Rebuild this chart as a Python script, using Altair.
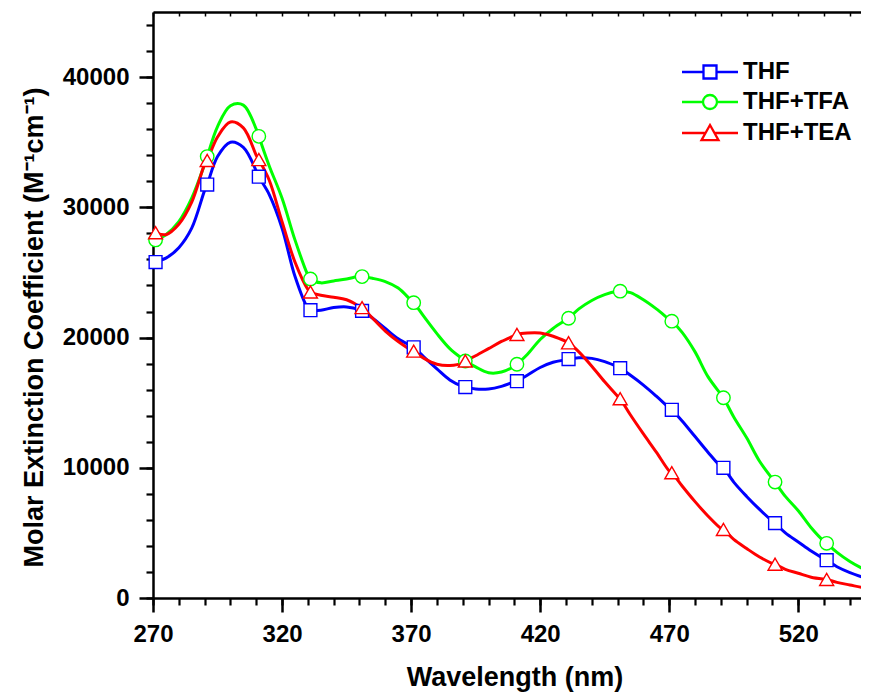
import altair as alt
import pandas as pd

# ---------------- data ----------------
series_names = ["THF", "THF+TFA", "THF+TEA"]
series_colors = ["#0000FF", "#00FF00", "#FF0000"]
series_shapes = ["square", "circle", "triangle-up"]
series_sizes = [165, 196, 290]

# smooth spectra, sampled every 5 nm
curve_nm = list(range(270, 551, 5))
thf_curve = [25650, 26100, 26900, 28400, 31300, 33900, 35000, 34600, 32800, 31000,
             28400, 24700, 22250, 22100, 22300, 22350, 22150, 21500, 20700, 19900,
             19350, 18500, 17600, 16750, 16250, 16050, 16050, 16250, 16600, 17100,
             17700, 18100, 18300, 18450, 18400, 18150, 17750, 17100, 16350, 15500,
             14600, 13600, 12400, 11200, 10100, 8900, 7800, 6800, 5900, 5000,
             4300, 3600, 3000, 2400, 1950, 1600, 1300]
tfa_curve = [27400, 27900, 28900, 30700, 33300, 36200, 37800, 37850, 36000, 33200,
             30700, 27500, 24800, 24200, 24350, 24500, 24700, 24550, 24300, 23800,
             22850, 21600, 20300, 19150, 18350, 17750, 17300, 17350, 17800, 18700,
             19850, 20700, 21350, 22200, 22850, 23300, 23550, 23450, 22900, 22200,
             21400, 20400, 18900, 17000, 15650, 13900, 12300, 10500, 9150, 7800,
             6700, 5400, 4350, 3500, 2800, 2250, 1800]
tea_curve = [28150, 27900, 28700, 30400, 33300, 35400, 36550, 36100, 34000, 32100,
             28900, 25800, 23700, 23250, 23100, 22900, 22400, 21500, 20500, 19700,
             19050, 18400, 17950, 17850, 18050, 18600, 19150, 19700, 20150, 20350,
             20350, 20100, 19700, 18900, 17800, 16600, 15500, 14050, 12600, 11200,
             9750, 8600, 7400, 6300, 5350, 4500, 3800, 3150, 2650, 2200,
             1900, 1600, 1450, 1200, 1000, 800, 650]

# symbols drawn on the curves
marker_nm = [271, 291, 311, 331, 351, 371, 391, 411, 431, 451, 471, 491, 511, 531]
thf_markers = [25800, 31750, 32350, 22100, 22050, 19250, 16200, 16650, 18350, 17650,
               14450, 10000, 5750, 2900]
tfa_markers = [27500, 33900, 35450, 24500, 24680, 22680, 18200, 17950, 21480, 23560,
               21260, 15380, 8900, 4200]
tea_markers = [28050, 33600, 33670, 23500, 22300, 18960, 18200, 20240, 19600, 15300,
               9620, 5270, 2600, 1430]

x_major_ticks = [270, 320, 370, 420, 470, 520]
x_minor_ticks = list(range(270, 551, 10))
y_major_ticks = [0, 10000, 20000, 30000, 40000]
y_minor_ticks = list(range(0, 45001, 2000))

# ---------------- tables ----------------
line_rows, marker_rows = [], []
for name, curve, marks in zip(series_names, [thf_curve, tfa_curve, tea_curve],
                              [thf_markers, tfa_markers, tea_markers]):
    pts = sorted(list(zip(curve_nm, curve)) + list(zip(marker_nm, marks)))
    for nm, v in pts:
        line_rows.append({"series": name, "nm": nm, "value": v})
    for nm, v in zip(marker_nm, marks):
        marker_rows.append({"sample": name, "nm": nm, "value": v})
line_df = pd.DataFrame(line_rows)
marker_df = pd.DataFrame(marker_rows)

FONT = "Liberation Sans"
x_scale = alt.Scale(domain=[270, 544.3], nice=False, zero=False)
y_scale = alt.Scale(domain=[0, 45000], nice=False, zero=False)

# legend glyph: a line segment with the open marker in its middle (unit = 10 px)
sq = "M-2.8,0L-0.68,0M0.68,0L2.8,0M-0.65,-0.65L0.65,-0.65L0.65,0.65L-0.65,0.65Z"
ci = "M-2.8,0L-0.72,0M0.72,0L2.8,0M0.7,0A0.7,0.7,0,1,1,-0.7,0A0.7,0.7,0,1,1,0.7,0Z"
tr = "M-2.8,0L-0.45,0M0.45,0L2.8,0M0,-0.8L0.85,0.72L-0.85,0.72Z"
shape_expr = (f"datum.value === 'THF' ? '{sq}' : "
              f"(datum.value === 'THF+TFA' ? '{ci}' : '{tr}')")

legend = alt.Legend(
    orient="none", legendX=545, legendY=48, title=None, direction="vertical",
    labelFont=FONT, labelFontSize=24, labelFontWeight="bold", labelColor="black",
    symbolSize=400, symbolStrokeWidth=2.3, labelOffset=21, rowPadding=6,
    padding=0, offset=0, symbolFillColor="white",
    symbolType=alt.ExprRef(expr=shape_expr),
)

color_scale = alt.Scale(domain=series_names, range=series_colors)

lines = alt.Chart(line_df).mark_line(strokeWidth=3, interpolate="catmull-rom", clip=True).encode(
    x=alt.X("nm:Q", scale=x_scale,
            axis=alt.Axis(orient="bottom", values=x_major_ticks, tickSize=14, tickWidth=2.5,
                          domainWidth=2.5, labelPadding=10, labelFlush=False, labelOverlap=False,
                          format="d", title="Wavelength (nm)", titleFontSize=27,
                          titleX=361.5, titleY=66, grid=False)),
    y=alt.Y("value:Q", scale=y_scale,
            axis=alt.Axis(orient="left", values=y_major_ticks, tickSize=14, tickWidth=2.5,
                          domainWidth=2.5, labelPadding=10, labelFlush=False, labelOverlap=False,
                          format="d", title="Molar Extinction Coefficient (M\u207b\u00b9cm\u207b\u00b9)",
                          titleFontSize=27, titlePadding=14, titleY=315, grid=False)),
    color=alt.Color("series:N", scale=color_scale, legend=legend),
    order=alt.Order("nm:Q"),
)

# marker scales take their domain from the data (sorted like the series list),
# so they are not merged into the colour legend
points = alt.Chart(marker_df).mark_point(filled=True, strokeWidth=1.4, opacity=1).encode(
    x=alt.X("nm:Q", scale=x_scale,
            axis=alt.Axis(orient="bottom", values=x_minor_ticks, tickSize=7, tickWidth=2.2,
                          labels=False, domain=False, title=None, grid=False)),
    y=alt.Y("value:Q", scale=y_scale,
            axis=alt.Axis(orient="left", values=y_minor_ticks, tickSize=7, tickWidth=2.2,
                          labels=False, domain=False, title=None, grid=False)),
    fill=alt.value("white"),
    stroke=alt.Stroke("sample:N", sort=series_names, scale=alt.Scale(range=series_colors), legend=None),
    shape=alt.Shape("sample:N", sort=series_names, scale=alt.Scale(range=series_shapes), legend=None),
    size=alt.Size("sample:N", sort=series_names, scale=alt.Scale(range=series_sizes), legend=None),
)

top_ticks = alt.Chart(marker_df).mark_point(opacity=0).encode(
    x=alt.X("nm:Q", scale=x_scale,
            axis=alt.Axis(orient="top", values=x_minor_ticks, tickSize=4, tickWidth=1.5, offset=-4,
                          labels=False, domain=False, title=None, grid=False)),
    y=alt.Y("value:Q", scale=y_scale, axis=None),
)

top_frame = alt.Chart(marker_df).mark_point(opacity=0).encode(
    x=alt.X("nm:Q", scale=x_scale,
            axis=alt.Axis(orient="top", domainWidth=2.5, ticks=False, labels=False,
                          title=None, grid=False)),
    y=alt.Y("value:Q", scale=y_scale, axis=None),
)

chart = alt.layer(lines, points, top_ticks, top_frame).resolve_axis(
    x="independent", y="independent"
).properties(
    width=708, height=586,
    padding={"left": 145, "top": 4, "right": 0, "bottom": 95},
    autosize=alt.AutoSizeParams(type="none"),
    background="white",
).configure_view(stroke=None).configure_axis(
    labelFont=FONT, labelFontSize=24, labelFontWeight="bold", labelColor="black",
    titleFont=FONT, titleFontWeight="bold", titleColor="black",
    domainColor="black", tickColor="black",
)

chart.save("out.html", embed_options={"renderer": "svg", "actions": False})
